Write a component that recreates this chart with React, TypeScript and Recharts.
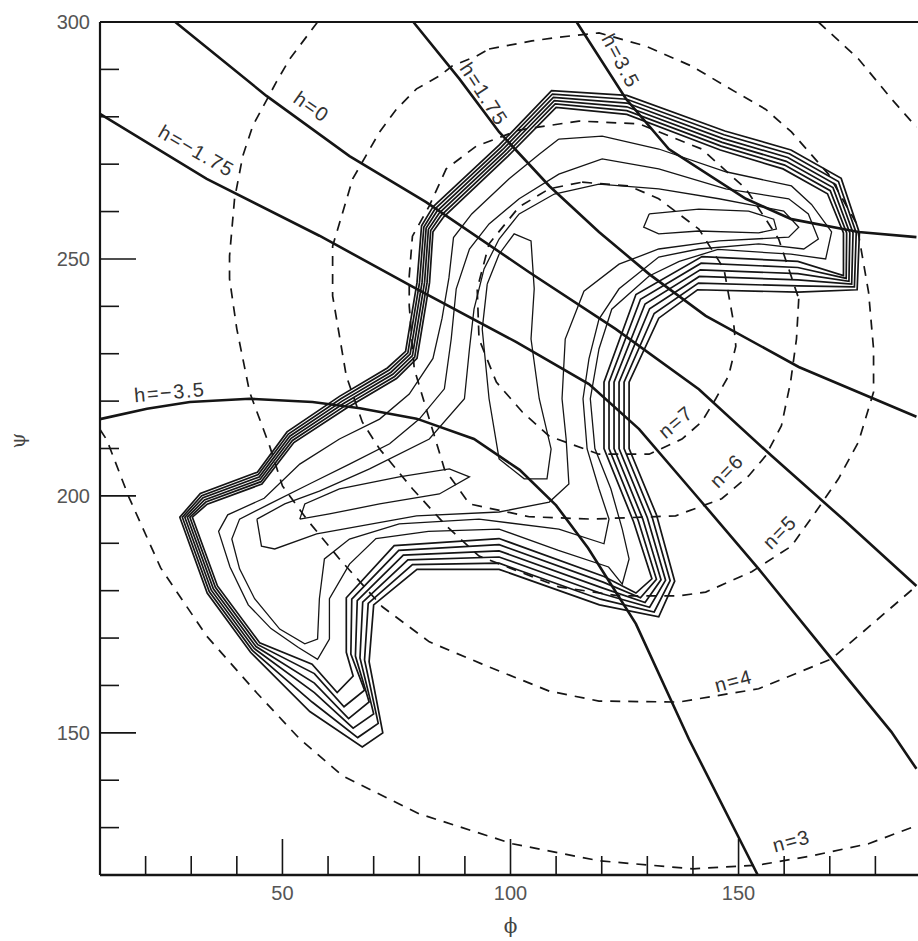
import React from 'react';
import { ComposedChart, Line, Scatter, XAxis, YAxis } from 'recharts';

type Pt = { x: number; y: number };
const P = (rows: number[][]): Pt[] => rows.map(([x, y]) => ({ x, y }));

// axis ticks
const phiTicks = [20, 30, 40, 50, 60, 70, 80, 90, 100, 110, 120, 130, 140, 150, 160, 170, 180];
const psiTicks = [130, 140, 150, 160, 170, 180, 190, 200, 210, 220, 230, 240, 250, 260, 270, 280, 290, 300];
const phiLabeled = [50, 100, 150];
const psiLabeled = [150, 200, 250, 300];

// h = const curves (solid)
const hPlus35 = P([[114.5, 300], [125.3, 283.8], [134.7, 273.2], [151.6, 262.7], [161.6, 258.4], [176.3, 255.7], [189, 254.6]]);
const hPlus175 = P([[78.7, 300], [88.8, 288], [97.5, 276.8], [108.5, 265.4], [119.4, 255.7], [130.4, 246.8], [142.8, 238], [163.2, 227.2], [189, 216.7]]);
const hZero = P([[26.5, 300], [46.5, 284.4], [64.7, 271.7], [81.5, 262], [104.1, 247.2], [123.1, 235.2], [141.3, 222.5], [157.3, 208.4], [173, 195], [189, 181]]);
const hMinus175 = P([[10, 280.6], [33.4, 266.9], [58.1, 254.9], [79.4, 243.7], [101.2, 232.5], [117.2, 223.6], [128.2, 214.1], [141.3, 199.4], [154.4, 184.6], [170.4, 165.6], [183.5, 150.2], [189, 142.4]]);
const hMinus35 = P([[10, 216.2], [20.3, 218.4], [29.7, 219.8], [42.8, 220.5], [56.6, 219.8], [67, 218.5], [79.4, 216.3], [92, 212], [102, 205.5], [110, 198], [117, 189], [127.5, 173], [139.1, 148.7], [154.2, 120]]);

// n = const curves (dashed)
const n3 = P([[10, 214], [11.5, 211.8], [16.3, 199.8], [23.3, 184.8], [33.4, 170.4], [44.4, 158.4], [53.8, 148.7], [63.2, 140.9], [80, 132.9], [100.4, 126.6], [119.4, 123], [140, 121.3], [154.4, 122.1], [165.8, 124], [178.5, 126.6], [189, 130.4]]);
const n4 = P([[57.7, 300], [51.6, 292.2], [48.7, 287.4], [43.5, 278.1], [41.3, 271.7], [39.5, 262.7], [38.4, 250.6], [38.4, 245.8], [40, 235.2], [42.8, 221.9], [47.2, 210.5], [50, 202.1], [55.3, 195.1], [62.5, 186.7], [71.9, 176.6], [82.2, 169.2], [93.8, 164.5], [108.5, 158.8], [119.4, 156.7], [136.9, 156.5], [154.4, 159.3], [170.4, 165.6], [189, 181]]);
const n4Top = P([[167.5, 300], [176.3, 292.2], [183.5, 283.8], [189, 277.8]]);
const n5 = P([[95.3, 294.3], [104.7, 296], [110.6, 296.8], [119.4, 297.7], [129.7, 294.9], [139.7, 290.7], [149.4, 285.2], [155.9, 281.6], [161.6, 276.8], [169.7, 267.9], [175.9, 257.4], [178.5, 243], [179.6, 231], [179.6, 221.9], [176.3, 211.4], [171.9, 203.6], [166.9, 196.6], [161.6, 189.4], [152.9, 184], [142.8, 179.7], [136.9, 178.9], [123.8, 178.9], [110.6, 180.8], [93.1, 187.3], [85.9, 193.7], [78.5, 201.5], [71.3, 209.9], [67.5, 215.6], [64, 225.3], [61, 242.2], [61, 252.7], [65.4, 266.9], [71.3, 276.8], [75, 281.6], [79.4, 285.9], [84.4, 288.6], [87.2, 290.7], [92.5, 292.8], [95.3, 294.3]]);
const n6 = P([[163.2, 241.6], [162.7, 233.1], [161.4, 224], [159.4, 214.8], [155.9, 208.4], [152.2, 204.2], [146.3, 199.4], [136.2, 195.8], [117.9, 195.1], [104.1, 195.6], [91, 198.3], [85.5, 205.7], [82.2, 216.2], [78.9, 226.8], [77.8, 240.1], [77.8, 246.4], [78.5, 254.8], [82.2, 261.2], [85.9, 269], [92.5, 273.8], [101.9, 277.2], [115, 279.1], [128.2, 278.5], [141.9, 273.2], [151.6, 264.8], [158.8, 254.2], [163.2, 241.6]]);
const n7 = P([[115.7, 266.2], [126, 265.4], [132.5, 262.7], [141.3, 256.3], [146.8, 247.9], [148.9, 236.7], [149.4, 231.6], [147.8, 225.3], [145, 220.5], [141.9, 215.6], [137.6, 212], [130.4, 208.8], [119.4, 208.8], [108.5, 212.6], [102.6, 217.7], [96.9, 224], [93.1, 233.1], [92.7, 243.7], [95.3, 253.2], [101.9, 261], [108.5, 264.8], [115.7, 266.2]]);

// population contours, outermost first
const level1 = P([[83, 261], [97.5, 274], [109, 285.5], [125.5, 284.5], [147, 277], [161.5, 273], [172.5, 267], [176.5, 255.5], [176, 243.5], [163, 243], [141, 243.5], [132.5, 237.5], [126, 224], [126, 210], [132, 196], [136, 182], [132.5, 174.5], [119.5, 177], [97.5, 184.5], [79.5, 184.5], [70, 177], [69, 165], [72, 150], [67.5, 147], [56, 154.5], [43, 167], [33.5, 179.5], [27.5, 195.5], [32, 200.5], [44.5, 205], [51, 213.5], [62.5, 221], [73, 227], [77, 230.5], [79.5, 245], [80.5, 257], [83, 261]]);
const level2 = P([[83.45, 260.55], [97.9, 273.55], [109.2, 284.8], [125.5, 283.7], [146.8, 276.2], [161.15, 272.2], [171.9, 266.35], [175.8, 255.5], [175.4, 244.1], [163, 244.3], [141.2, 244.9], [131.5, 238.5], [124.9, 224], [124.9, 210], [131, 195.7], [135, 182.1], [131.5, 175.5], [119.7, 178.2], [97.5, 185.8], [78.5, 185.5], [68.8, 177.3], [68, 165.4], [71, 152], [66.5, 149], [56.5, 156.5], [43.4, 167.4], [33.95, 179.8], [28.05, 195.5], [32.3, 200.05], [44.7, 204.5], [51.3, 213.05], [62.8, 220.5], [73.4, 226.55], [77.5, 230.2], [80.05, 245], [81, 256.75], [83.45, 260.55]]);
const level3 = P([[83.9, 260.1], [98.3, 273.1], [109.4, 284.1], [125.5, 282.9], [146.6, 275.4], [160.8, 271.4], [171.3, 265.7], [175.1, 255.5], [174.8, 244.7], [163, 245.6], [141.4, 246.3], [130.5, 239.5], [123.8, 224], [123.8, 210], [130, 195.4], [134, 182.2], [130.5, 176.5], [119.9, 179.4], [97.5, 187.1], [77.5, 186.5], [67.6, 177.6], [67, 165.8], [70, 154], [65.5, 151], [57, 158.5], [43.8, 167.8], [34.4, 180.1], [28.6, 195.5], [32.6, 199.6], [44.9, 204], [51.6, 212.6], [63.1, 220], [73.8, 226.1], [78, 229.9], [80.6, 245], [81.5, 256.5], [83.9, 260.1]]);
const level4 = P([[84.35, 259.65], [98.7, 272.65], [109.6, 283.4], [125.5, 282.1], [146.4, 274.6], [160.45, 270.6], [170.7, 265.05], [174.4, 255.5], [174.2, 245.3], [163, 246.9], [141.6, 247.7], [129.5, 240.5], [122.7, 224], [122.7, 210], [129, 195.1], [133, 182.3], [129.5, 177.5], [120.1, 180.6], [97.5, 188.4], [76.5, 187.5], [66.4, 177.9], [66, 166.2], [69, 156.5], [64.5, 153], [57, 160.5], [44.2, 168.2], [34.85, 180.4], [29.15, 195.5], [32.9, 199.15], [45.1, 203.5], [51.9, 212.15], [63.4, 219.5], [74.2, 225.65], [78.5, 229.6], [81.15, 245], [82, 256.25], [84.35, 259.65]]);
const level5 = P([[84.8, 259.2], [99.1, 272.2], [109.8, 282.7], [125.5, 281.3], [146.2, 273.8], [160.1, 269.8], [170.1, 264.4], [173.7, 255.5], [173.6, 245.9], [163, 248.2], [141.8, 249.1], [128.5, 241.5], [121.6, 224], [121.6, 210], [128, 194.8], [132, 182.4], [128.5, 178.5], [120.3, 181.8], [97.5, 189.7], [75.5, 188.5], [65.2, 178.2], [65, 166.6], [68, 159], [63.5, 155.5], [57, 162.5], [44.6, 168.6], [35.3, 180.7], [29.7, 195.5], [33.2, 198.7], [45.3, 203], [52.2, 211.7], [63.7, 219], [74.6, 225.2], [79, 229.3], [81.7, 245], [82.5, 256], [84.8, 259.2]]);
const level6 = P([[85.25, 258.75], [99.5, 271.75], [110, 282], [125.5, 280.5], [146, 273], [159.75, 269], [169.5, 263.75], [173, 255.5], [173, 246.5], [163, 249.5], [142, 250.5], [127.5, 242.5], [120.5, 224], [120.5, 210], [127, 194.5], [131, 182.5], [127.5, 179.5], [120.5, 183], [97.5, 191], [74.5, 189.5], [64, 178.5], [64, 167], [65.5, 162], [62, 158.5], [56.5, 164.5], [45, 169], [35.75, 181], [30.25, 195.5], [33.5, 198.25], [45.5, 202.5], [52.5, 211.25], [64, 218.5], [75, 224.75], [79.5, 229], [82.25, 245], [83, 255.75], [85.25, 258.75]]);
const level7 = P([[110.6, 275.3], [120.1, 275.9], [132.5, 273.2], [147.2, 268.4], [161.6, 265.4], [166, 261.5], [170.4, 255.7], [169.1, 250], [161.5, 251], [145.5, 252], [137, 249.5], [130.4, 246.4], [122.2, 239.4], [119.4, 231], [117.5, 220.5], [118.5, 210], [122, 201.5], [124.5, 193], [126, 186.7], [124.5, 181.4], [121.5, 185], [110.5, 188.5], [97.5, 193], [82, 192.5], [70.5, 191], [64.7, 185.6], [60.3, 178.3], [60.3, 169.8], [57.7, 165.5], [53.5, 168], [47.5, 172], [42.5, 177], [38.5, 185], [36, 192.5], [38, 196], [46, 199.5], [53.8, 206.7], [62.5, 212], [71.3, 216.2], [77.8, 221.5], [83, 229], [85, 237.5], [86.5, 246], [87.5, 254.5], [91.5, 259.5], [99.7, 266.9], [106.3, 272.1], [110.6, 275.3]]);
const level8 = P([[101.9, 262.7], [110.6, 267.9], [120.1, 271.1], [132.5, 269], [147.2, 264.8], [161, 262.7], [165.3, 259.5], [167.5, 254.2], [164.3, 252.1], [154.4, 253.2], [141.3, 252.1], [132.5, 250.4], [123.8, 243.7], [119.4, 237.3], [117.2, 228.9], [115.9, 220.5], [116.8, 209.9], [119.4, 201.5], [121.6, 195.1], [120.5, 189.9], [110.6, 193], [93.1, 195.1], [75.6, 194.1], [64.7, 190.9], [59.2, 186.7], [58.1, 178.3], [57.7, 169.8], [54.9, 168.8], [49.4, 171.9], [43.9, 178.3], [40.6, 184.6], [38.9, 190.9], [40.6, 195.1], [47.2, 198.3], [55.9, 202.5], [64.7, 206.7], [73.5, 211], [80, 216.2], [85.5, 222.6], [87, 233.1], [88.1, 243.7], [91, 252.1], [95.3, 257.4], [101.9, 262.7]]);
const level9 = P([[44.4, 195.1], [45.4, 189.4], [48.3, 188.8], [57.5, 192], [79.4, 195.8], [97.5, 196.6], [108.5, 198.7], [112.8, 202.5], [112.2, 212], [111.3, 220.5], [112, 233.1], [116.1, 243.2], [123.8, 248.9], [132.5, 252.1], [145.7, 253.8], [161, 254.6], [163.2, 256.7], [159.9, 260.1], [145.7, 262.7], [132.5, 264.8], [119.4, 265.8], [109.6, 263.7], [101.9, 259.5], [97.5, 254.2], [94.2, 247.9], [92, 239.4], [91, 231], [89.9, 220.5], [82.2, 212], [69.1, 205.7], [58.1, 201], [50.5, 198.3], [44.4, 195.1]]);
const coreLeft = P([[53.8, 195.1], [54.9, 198.3], [62.5, 201.5], [75.6, 204], [86.6, 205.7], [91, 204], [84.4, 200.4], [71.3, 198.3], [60.3, 196.2], [53.8, 195.1]]);
const coreMiddle = P([[94.9, 244.7], [97.5, 251], [100.8, 255.3], [104.5, 253.8], [105.2, 243.7], [104.5, 233.1], [106.3, 220.5], [108.9, 209.9], [108, 203.6], [103, 203.6], [97.5, 207.8], [95.3, 220.5], [93.8, 235.2], [94.9, 244.7]]);
const coreUpper = P([[130.4, 259.5], [141.3, 260.5], [152.2, 260.1], [157.7, 258.4], [158.3, 256.3], [154.4, 255.5], [141.3, 255.9], [132.5, 255.3], [129.2, 256.7], [130.4, 259.5]]);

const hCurves = [hPlus35, hPlus175, hZero, hMinus175, hMinus35];
const nCurves = [n3, n4, n4Top, n5, n6, n7];
const outerContours = [level1, level2, level3, level4, level5, level6];
const innerContours = [level7, level8, level9, coreLeft, coreMiddle, coreUpper];

// curve labels: text, phi, psi
const curveLabels = [
  { text: 'h=3.5', x: 124.2, y: 291.8 },
  { text: 'h=1.75', x: 94.2, y: 284.8 },
  { text: 'h=0', x: 56.4, y: 282.1 },
  { text: 'h=\u22121.75', x: 31.2, y: 272.8 },
  { text: 'h=\u22123.5', x: 25.3, y: 221.9 },
  { text: 'n=7', x: 136.2, y: 215.6 },
  { text: 'n=6', x: 147.4, y: 205.3 },
  { text: 'n=5', x: 159, y: 192.4 },
  { text: 'n=4', x: 148.9, y: 161 },
  { text: 'n=3', x: 161.6, y: 127.2 },
];
const labelAngles: Record<string, number> = {
  'h=3.5': 62, 'h=1.75': 57, 'h=0': 35, 'h=\u22121.75': 30, 'h=\u22123.5': -5,
  'n=7': -40, 'n=6': -45, 'n=5': -45, 'n=4': -15, 'n=3': -15,
};

const INK = '#151515';
const FONT = 'Liberation Sans, Arial, sans-serif';

const BottomTick = (p: any) => {
  const major = phiLabeled.includes(p.payload.value);
  return (
    <g>
      <line x1={p.x} y1={p.y} x2={p.x} y2={p.y - (major ? 36 : 19)} stroke={INK} strokeWidth={1.6} />
      {major && (
        <text x={p.x} y={p.y + 25} textAnchor="middle" fontSize={20} fill="#555" fontFamily={FONT}>
          {p.payload.value}
        </text>
      )}
    </g>
  );
};
const TopTick = (p: any) => {
  const major = phiLabeled.includes(p.payload.value);
  return <line x1={p.x} y1={p.y} x2={p.x} y2={p.y + (major ? 34 : 18)} stroke={INK} strokeWidth={1.6} />;
};
const LeftTick = (p: any) => {
  const major = psiLabeled.includes(p.payload.value);
  return (
    <g>
      <line x1={p.x} y1={p.y} x2={p.x + (major ? 36 : 19)} y2={p.y} stroke={INK} strokeWidth={1.6} />
      {major && (
        <text x={p.x - 10} y={p.y + 7} textAnchor="end" fontSize={20} fill="#555" fontFamily={FONT}>
          {p.payload.value}
        </text>
      )}
    </g>
  );
};
const RightTick = (p: any) => {
  const major = psiLabeled.includes(p.payload.value);
  return <line x1={p.x} y1={p.y} x2={p.x - (major ? 34 : 18)} y2={p.y} stroke={INK} strokeWidth={1.6} />;
};

const CurveLabel = (p: any) => {
  const a = labelAngles[p.payload.text] ?? 0;
  return (
    <text
      x={p.cx}
      y={p.cy}
      transform={`rotate(${a} ${p.cx} ${p.cy})`}
      textAnchor="middle"
      dominantBaseline="central"
      fontSize={20}
      letterSpacing={1.5}
      fill="#333"
      fontFamily={FONT}
    >
      {p.payload.text}
    </text>
  );
};

export default function App() {
  return (
    <div style={{ position: 'absolute', left: 0, top: 0, width: 918, height: 941, overflow: 'hidden', background: '#fff' }}>
      <ComposedChart width={936} height={941} margin={{ top: 0, right: 0, bottom: 0, left: 0 }}>
        <XAxis
          type="number"
          dataKey="x"
          domain={[10, 190]}
          ticks={phiTicks}
          interval={0}
          height={66}
          tickSize={0}
          tickMargin={0}
          tickLine={false}
          tick={BottomTick}
          axisLine={{ stroke: INK, strokeWidth: 2.6 }}
          label={{ value: '\u03d5', position: 'insideBottom', offset: 8, fontSize: 20, fill: '#444', fontFamily: 'DejaVu Serif' }}
        />
        <XAxis
          xAxisId="top"
          orientation="top"
          type="number"
          dataKey="x"
          domain={[10, 190]}
          ticks={phiTicks}
          interval={0}
          height={22}
          tickSize={0}
          tickMargin={0}
          tickLine={false}
          tick={TopTick}
          axisLine={{ stroke: INK, strokeWidth: 2.2 }}
        />
        <YAxis
          type="number"
          dataKey="y"
          domain={[120, 300]}
          ticks={psiTicks}
          interval={0}
          width={100}
          tickSize={0}
          tickMargin={0}
          tickLine={false}
          tick={LeftTick}
          axisLine={{ stroke: INK, strokeWidth: 2.2 }}
          label={{ value: '\u03c8', angle: -90, position: 'insideLeft', offset: 18, fontSize: 20, fill: '#444', fontFamily: 'DejaVu Serif' }}
        />
        <YAxis
          yAxisId="right"
          orientation="right"
          type="number"
          dataKey="y"
          domain={[120, 300]}
          ticks={psiTicks}
          interval={0}
          width={15}
          tickSize={0}
          tickMargin={0}
          tickLine={false}
          tick={RightTick}
          axisLine={{ stroke: INK, strokeWidth: 2.2 }}
        />
        {outerContours.map((c, i) => (
          <Line key={`o${i}`} data={c} dataKey="y" type="linear" stroke={INK} strokeWidth={1.7} dot={false} isAnimationActive={false} />
        ))}
        {innerContours.map((c, i) => (
          <Line key={`c${i}`} data={c} dataKey="y" type="linear" stroke={INK} strokeWidth={1.3} dot={false} isAnimationActive={false} />
        ))}
        {nCurves.map((c, i) => (
          <Line key={`n${i}`} data={c} dataKey="y" type="linear" stroke={INK} strokeWidth={1.7} strokeDasharray="10 8" dot={false} isAnimationActive={false} />
        ))}
        {hCurves.map((c, i) => (
          <Line key={`h${i}`} data={c} dataKey="y" type="linear" stroke={INK} strokeWidth={2.6} dot={false} isAnimationActive={false} />
        ))}
        <Scatter data={curveLabels} dataKey="y" shape={CurveLabel} isAnimationActive={false} />
      </ComposedChart>
    </div>
  );
}
